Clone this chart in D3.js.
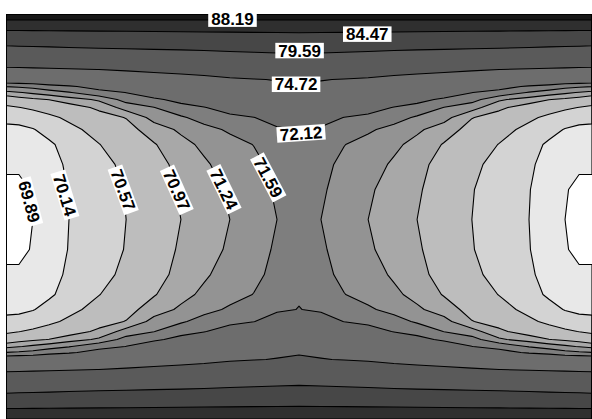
<!DOCTYPE html>
<html><head><meta charset="utf-8">
<script src="https://cdn.jsdelivr.net/npm/d3@7"></script>
<style>html,body{margin:0;padding:0;background:#fff;overflow:hidden}</style>
</head><body><svg id="chart" width="592" height="419"></svg>
<script>
// ---------- data ----------
const levels = [69.89, 70.14, 70.57, 70.97, 71.24, 71.59, 72.12, 74.72, 79.59, 84.47, 88.19];

// grid node coordinates (data units, -1..1 across the domain)
const xNodes = [-1, -0.956, -0.908, -0.853, -0.785, -0.683, -0.590, -0.495, -0.403, -0.324, -0.236, -0.154, -0.075, 0,
                0.075, 0.154, 0.236, 0.324, 0.403, 0.495, 0.590, 0.683, 0.785, 0.853, 0.908, 0.956, 1];
const yNodes = [1, 0.973, 0.920, 0.852, 0.788, 0.730, 0.681, 0.647, 0.618, 0.584, 0.545, 0.496, 0.438, 0.365, 0.268, 0.146, 0,
                -0.146, -0.268, -0.365, -0.438, -0.496, -0.545, -0.584, -0.618, -0.647, -0.681, -0.730, -0.788, -0.852, -0.920, -0.973, -1];

// field values, rows top to bottom, columns left to right
const fieldRows = [
[90.00,90.00,90.00,90.00,90.00,90.00,90.00,90.00,90.00,90.00,90.00,90.00,90.00,90.00,90.00,90.00,90.00,90.00,90.00,90.00,90.00,90.00,90.00,90.00,90.00,90.00,90.00],
[88.34,88.34,88.34,88.34,88.34,88.34,88.34,88.34,88.34,88.34,88.34,88.34,88.34,88.34,88.34,88.34,88.34,88.34,88.34,88.34,88.34,88.34,88.34,88.34,88.34,88.34,88.34],
[84.48,84.50,84.54,84.57,84.61,84.67,84.73,84.79,84.85,84.91,84.94,84.99,85.01,85.07,85.01,84.99,84.94,84.91,84.85,84.79,84.73,84.67,84.61,84.57,84.54,84.50,84.48],
[79.92,80.01,80.10,80.18,80.32,80.48,80.61,80.76,80.88,81.00,81.15,81.29,81.42,81.54,81.42,81.29,81.15,81.00,80.88,80.76,80.61,80.48,80.32,80.18,80.10,80.01,79.92],
[76.81,76.89,76.97,77.06,77.20,77.38,77.52,77.67,77.80,77.95,78.24,78.43,78.61,78.76,78.61,78.43,78.24,77.95,77.80,77.67,77.52,77.38,77.20,77.06,76.97,76.89,76.81],
[74.23,74.30,74.36,74.45,74.56,74.73,74.89,75.09,75.25,75.45,75.96,76.26,76.53,76.78,76.53,76.26,75.96,75.45,75.25,75.09,74.89,74.73,74.56,74.45,74.36,74.30,74.23],
[72.61,72.69,72.74,72.87,73.01,73.35,73.64,73.88,74.07,74.22,74.46,74.62,74.81,75.13,74.81,74.62,74.46,74.22,74.07,73.88,73.64,73.35,73.01,72.87,72.74,72.69,72.61],
[71.60,71.64,71.71,71.88,72.02,72.39,72.82,73.18,73.46,73.67,73.95,74.15,74.34,74.48,74.34,74.15,73.95,73.67,73.46,73.18,72.82,72.39,72.02,71.88,71.71,71.64,71.60],
[71.14,71.22,71.30,71.40,71.56,71.88,72.13,72.57,72.94,73.21,73.51,73.75,73.99,74.17,73.99,73.75,73.51,73.21,72.94,72.57,72.13,71.88,71.56,71.40,71.30,71.22,71.14],
[70.78,70.85,70.92,70.98,71.10,71.29,71.74,71.99,72.34,72.66,73.00,73.29,73.58,73.80,73.58,73.29,73.00,72.66,72.34,71.99,71.74,71.29,71.10,70.98,70.92,70.85,70.78],
[70.50,70.56,70.64,70.73,70.85,71.02,71.36,71.58,71.89,72.09,72.41,72.75,73.11,73.38,73.11,72.75,72.41,72.09,71.89,71.58,71.36,71.02,70.85,70.73,70.64,70.56,70.50],
[70.23,70.25,70.36,70.49,70.64,70.87,70.98,71.34,71.53,71.76,71.96,72.10,72.53,72.85,72.53,72.10,71.96,71.76,71.53,71.34,70.98,70.87,70.64,70.49,70.36,70.25,70.23],
[70.06,70.07,70.12,70.27,70.47,70.70,70.87,71.10,71.29,71.46,71.65,71.83,72.00,72.14,72.00,71.83,71.65,71.46,71.29,71.10,70.87,70.70,70.47,70.27,70.12,70.07,70.06],
[69.99,70.00,70.05,70.08,70.28,70.56,70.75,70.95,71.15,71.30,71.45,71.60,71.84,72.05,71.84,71.60,71.45,71.30,71.15,70.95,70.75,70.56,70.28,70.08,70.05,70.00,69.99],
[69.93,69.91,69.97,70.03,70.19,70.44,70.66,70.87,71.05,71.20,71.36,71.50,71.70,72.00,71.70,71.50,71.36,71.20,71.05,70.87,70.66,70.44,70.19,70.03,69.97,69.91,69.93],
[69.83,69.86,69.90,70.01,70.15,70.38,70.59,70.81,71.01,71.13,71.28,71.45,71.64,71.91,71.64,71.45,71.28,71.13,71.01,70.81,70.59,70.38,70.15,70.01,69.90,69.86,69.83],
[69.75,69.81,69.89,70.00,70.14,70.37,70.57,70.77,70.97,71.10,71.24,71.42,71.59,71.80,71.59,71.42,71.24,71.10,70.97,70.77,70.57,70.37,70.14,70.00,69.89,69.81,69.75],
[69.83,69.86,69.90,70.01,70.15,70.38,70.59,70.81,71.01,71.13,71.28,71.45,71.64,71.91,71.64,71.45,71.28,71.13,71.01,70.81,70.59,70.38,70.15,70.01,69.90,69.86,69.83],
[69.93,69.91,69.97,70.03,70.19,70.44,70.66,70.87,71.05,71.20,71.36,71.50,71.70,72.00,71.70,71.50,71.36,71.20,71.05,70.87,70.66,70.44,70.19,70.03,69.97,69.91,69.93],
[69.99,70.00,70.05,70.08,70.28,70.56,70.75,70.95,71.15,71.30,71.45,71.60,71.84,72.05,71.84,71.60,71.45,71.30,71.15,70.95,70.75,70.56,70.28,70.08,70.05,70.00,69.99],
[70.06,70.07,70.12,70.27,70.47,70.70,70.87,71.10,71.29,71.46,71.65,71.83,72.00,72.14,72.00,71.83,71.65,71.46,71.29,71.10,70.87,70.70,70.47,70.27,70.12,70.07,70.06],
[70.23,70.25,70.36,70.49,70.64,70.87,70.98,71.34,71.53,71.76,71.96,72.10,72.53,72.85,72.53,72.10,71.96,71.76,71.53,71.34,70.98,70.87,70.64,70.49,70.36,70.25,70.23],
[70.50,70.56,70.64,70.73,70.85,71.02,71.36,71.58,71.89,72.09,72.41,72.75,73.11,73.38,73.11,72.75,72.41,72.09,71.89,71.58,71.36,71.02,70.85,70.73,70.64,70.56,70.50],
[70.78,70.85,70.92,70.98,71.10,71.29,71.74,71.99,72.34,72.66,73.00,73.29,73.58,73.80,73.58,73.29,73.00,72.66,72.34,71.99,71.74,71.29,71.10,70.98,70.92,70.85,70.78],
[71.14,71.22,71.30,71.40,71.56,71.88,72.13,72.57,72.94,73.21,73.51,73.75,73.99,74.17,73.99,73.75,73.51,73.21,72.94,72.57,72.13,71.88,71.56,71.40,71.30,71.22,71.14],
[71.60,71.64,71.71,71.88,72.02,72.39,72.82,73.18,73.46,73.67,73.95,74.15,74.34,74.48,74.34,74.15,73.95,73.67,73.46,73.18,72.82,72.39,72.02,71.88,71.71,71.64,71.60],
[72.61,72.69,72.74,72.87,73.01,73.35,73.64,73.88,74.07,74.22,74.46,74.62,74.81,75.13,74.81,74.62,74.46,74.22,74.07,73.88,73.64,73.35,73.01,72.87,72.74,72.69,72.61],
[74.23,74.30,74.36,74.45,74.56,74.73,74.89,75.09,75.25,75.45,75.96,76.26,76.53,76.78,76.53,76.26,75.96,75.45,75.25,75.09,74.89,74.73,74.56,74.45,74.36,74.30,74.23],
[76.81,76.89,76.97,77.06,77.20,77.38,77.52,77.67,77.80,77.95,78.24,78.43,78.61,78.76,78.61,78.43,78.24,77.95,77.80,77.67,77.52,77.38,77.20,77.06,76.97,76.89,76.81],
[79.92,80.01,80.10,80.18,80.32,80.48,80.61,80.76,80.88,81.00,81.15,81.29,81.42,81.54,81.42,81.29,81.15,81.00,80.88,80.76,80.61,80.48,80.32,80.18,80.10,80.01,79.92],
[84.48,84.50,84.54,84.57,84.61,84.67,84.73,84.79,84.85,84.91,84.94,84.99,85.01,85.07,85.01,84.99,84.94,84.91,84.85,84.79,84.73,84.67,84.61,84.57,84.54,84.50,84.48],
[88.34,88.34,88.34,88.34,88.34,88.34,88.34,88.34,88.34,88.34,88.34,88.34,88.34,88.34,88.34,88.34,88.34,88.34,88.34,88.34,88.34,88.34,88.34,88.34,88.34,88.34,88.34],
[90.00,90.00,90.00,90.00,90.00,90.00,90.00,90.00,90.00,90.00,90.00,90.00,90.00,90.00,90.00,90.00,90.00,90.00,90.00,90.00,90.00,90.00,90.00,90.00,90.00,90.00,90.00]
];

// ---------- layout / style ----------
const W = 592, H = 419;
const plot = {left: 6, right: 592, top: 14, bottom: 425};
const bandColors = ['#ffffff','#e8e8e8','#d3d3d3','#bdbdbd','#a8a8a8','#939393','#7e7e7e','#6d6d6d','#5a5a5a','#474747','#2f2f2f','#171717'];
// label anchors in data coordinates, with rotation (degrees); index into levels
const labelSpots = [
  {lv: 10, x: -0.227, y: 0.975, rot: 0},
  {lv: 9,  x: 0.233,  y: 0.902, rot: 0},
  {lv: 8,  x: 0.002,  y: 0.822, rot: 0},
  {lv: 7,  x: -0.010, y: 0.658, rot: 0},
  {lv: 6,  x: 0.007,  y: 0.419, rot: -4},
  {lv: 5,  x: -0.105, y: 0.205, rot: 62},
  {lv: 4,  x: -0.256, y: 0.147, rot: 64},
  {lv: 3,  x: -0.417, y: 0.144, rot: 66},
  {lv: 2,  x: -0.600, y: 0.144, rot: 70},
  {lv: 1,  x: -0.799, y: 0.119, rot: 73},
  {lv: 0,  x: -0.920, y: 0.087, rot: 75}
];

const svg = d3.select('#chart');
const xPx = d3.scaleLinear().domain([-1, 1]).range([plot.left, plot.right]);
const yPx = d3.scaleLinear().domain([1, -1]).range([plot.top, plot.bottom]);

const nx = xNodes.length, ny = yNodes.length;
const ix = d3.scaleLinear()
  .domain([0, ...d3.range(nx).map(i => i + 0.5), nx])
  .range([xNodes[0], ...xNodes, xNodes[nx - 1]]);
const iy = d3.scaleLinear()
  .domain([0, ...d3.range(ny).map(i => i + 0.5), ny])
  .range([yNodes[0], ...yNodes, yNodes[ny - 1]]);

const flat = fieldRows.flat();
const contours = d3.contours().size([nx, ny]).thresholds(levels)(flat);

const proj = d3.geoTransform({
  point(x, y) { this.stream.point(xPx(ix(x)), yPx(iy(y))); }
});
const path = d3.geoPath(proj);

svg.append('defs').append('clipPath').attr('id', 'clip')
  .append('rect')
  .attr('x', plot.left).attr('y', plot.top)
  .attr('width', plot.right - plot.left).attr('height', plot.bottom - plot.top);

const g = svg.append('g').attr('clip-path', 'url(#clip)');
g.append('rect')
  .attr('x', plot.left).attr('y', plot.top)
  .attr('width', plot.right - plot.left).attr('height', plot.bottom - plot.top)
  .attr('fill', bandColors[0]);

g.selectAll('path.band').data(contours).join('path')
  .attr('class', 'band')
  .attr('d', path)
  .attr('fill', (d, i) => bandColors[i + 1])
  .attr('stroke', 'none');

g.selectAll('path.line').data(contours).join('path')
  .attr('class', 'line')
  .attr('d', path)
  .attr('fill', 'none')
  .attr('stroke', '#000')
  .attr('stroke-width', 1.1)
  .attr('stroke-linejoin', 'round');

svg.append('rect')
  .attr('x', plot.left + 0.5).attr('y', plot.top + 0.5)
  .attr('width', plot.right - plot.left).attr('height', plot.bottom - plot.top)
  .attr('fill', 'none').attr('stroke', '#000').attr('stroke-width', 1);

const fs = 17;
const lg = svg.append('g').attr('class', 'labels');
labelSpots.forEach(s => {
  const gg = lg.append('g')
    .attr('transform', `translate(${xPx(s.x)},${yPx(s.y)}) rotate(${s.rot})`);
  const r = gg.append('rect').attr('fill', '#fff');
  const t = gg.append('text')
    .attr('text-anchor', 'middle')
    .attr('y', fs * 0.358)
    .attr('font-family', '"Liberation Sans", Arial, Helvetica, sans-serif')
    .attr('font-weight', 'bold')
    .attr('font-size', fs + 'px')
    .attr('fill', '#000')
    .text(levels[s.lv].toFixed(2));
  const w = t.node().getComputedTextLength() + 6;
  const h = 15.5;
  r.attr('x', -w / 2).attr('y', -h / 2).attr('width', w).attr('height', h);
});
</script>
</body></html>
